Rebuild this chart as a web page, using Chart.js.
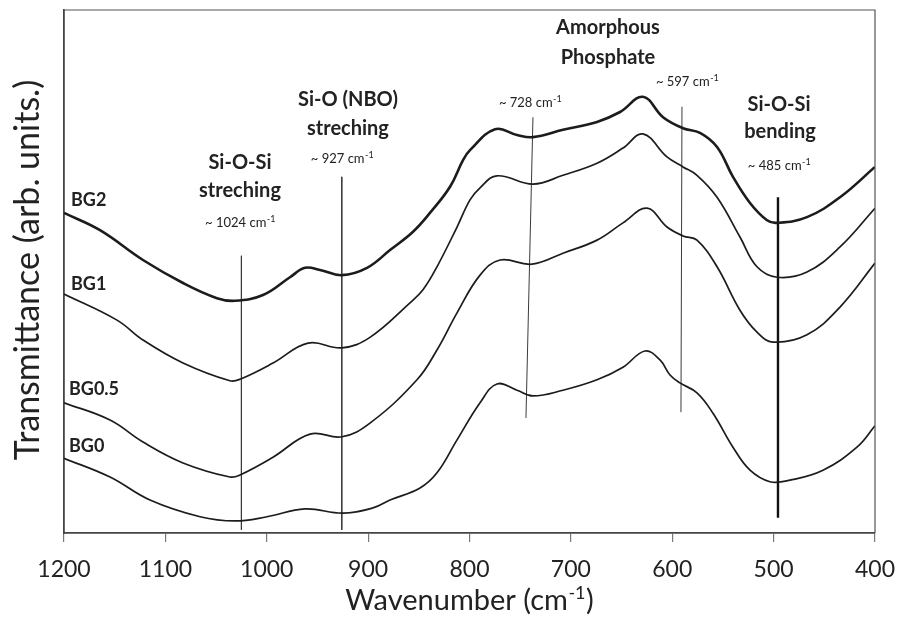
<!DOCTYPE html>
<html>
<head>
<meta charset="utf-8">
<script src="https://cdn.jsdelivr.net/npm/chart.js@4"></script>
<style>
  html, body { margin: 0; padding: 0; background: #ffffff; }
  #wrap { width: 898px; height: 617px; }
</style>
</head>
<body>
<div id="wrap"><canvas id="c" width="898" height="617"></canvas></div>
<script>
// ---- data (wavenumber in cm-1, transmittance in arbitrary units) ----
const waveBG2 = [1200,1164.5,1122.1,1082.6,1049.1,1031.3,1003.7,977.1,962.3,947.5,925.8,901.1,878.4,855.7,839,819.2,806.4,799.5,774.8,753.1,737.4,707.8,674.2,651.5,628.9,609.1,589.4,572.6,555.8,540.1,523.3,506.5,496.7,467.1,434.5,400];
const tBG2    = [61.2,57.9,52.2,47.8,44.9,44.4,45.5,48.9,50.7,50.3,49.3,50.7,54.1,57.6,61.2,66.2,71.3,73.2,77.2,76.1,75.7,77.1,78.6,80.5,83.4,79.5,77.4,76.5,73.8,68.1,63.1,59.8,59.3,60.4,64.2,70.0];

const waveBG1 = [1200,1147.7,1122.1,1082.6,1036.3,1026.4,993.8,959.3,925.8,898.2,858.7,845.9,832.1,812.3,799.5,789.6,772.9,737.4,707.8,674.2,648.6,628.9,605.2,589.4,575.6,555.8,533.2,516.4,496.7,467.1,434.5,400];
const tBG1    = [45.7,40.7,36.9,32.5,29.1,29.4,32.5,36.3,35.4,37.4,44.0,46.5,50.9,58.5,63.7,66.0,68.3,66.7,68.4,70.7,73.6,76.3,71.9,70.0,68.4,64.2,56.6,50.9,48.9,49.9,54.7,62.1];

const waveBG05 = [1200,1154.6,1122.1,1082.6,1036.3,1026.4,993.8,957.3,925.8,898.2,851.8,832.1,812.3,789.6,769.9,738.3,707.8,674.2,648.6,624.9,605.2,589.4,575.6,555.8,533.2,516.4,500.6,467.1,434.5,400];
const tBG05    = [24.9,21.6,17.4,13.4,10.7,11.1,14.5,18.9,18.4,21.0,29.3,35.0,42.1,49.3,52.2,51.4,53.5,56.0,59.3,62.1,58.5,56.8,56.0,50.9,42.6,38.4,36.5,37.9,43.2,51.6];

const waveBG0 = [1200,1154.6,1115.2,1065.8,1031.3,999.8,962.3,924.8,895.2,878.4,848.8,832.1,812.3,789.6,772.9,753.1,737.4,707.8,674.2,648.6,626.9,612.1,602.2,592.4,575.6,559.8,540.1,523.3,503.6,483.8,451.3,417.8,400];
const tBG0    = [14.3,10.7,6.3,3.1,2.3,3.1,4.6,3.8,4.8,6.3,8.6,11.5,17.8,24.9,28.5,27.3,26.2,27.3,29.3,31.7,34.8,33.1,30.2,28.7,26.8,22.9,16.4,12.0,9.8,10.1,12.0,16.4,20.5];

// vertical band marker lines: top and bottom ends (wavenumber, T)
const markerWaveTop    = [1025, 926, 737.4, 590.4, 495.7];
const markerWaveBottom = [1025, 926, 744.3, 591.4, 495.7];
const markerTTop       = [53.0, 68.1, 79.5, 81.5, 64.2];
const markerTBottom    = [0.6, 0.6, 22.0, 23.1, 2.9];

const xTicks = [1200,1100,1000,900,800,700,600,500,400];

// annotation texts anchored at (wavenumber, T)
const bandTitles = [
  {text:'Si-O-Si', w:1026.4, t:70.9},
  {text:'streching', w:1026.4, t:65.4},
  {text:'Si-O (NBO)', w:919.9, t:82.8},
  {text:'streching', w:919.9, t:77.4},
  {text:'Amorphous', w:663.4, t:96.6},
  {text:'Phosphate', w:663.4, t:91.0},
  {text:'Si-O-Si', w:494.7, t:82.0},
  {text:'bending', w:493.7, t:76.7}
];
const bandPositions = [
  {text:'~ 1024 cm', w:1026.4, t:59.3},
  {text:'~ 927 cm', w:925.8, t:71.7},
  {text:'~ 728 cm', w:740.3, t:82.4},
  {text:'~ 597 cm', w:585.4, t:86.4},
  {text:'~ 485 cm', w:494.7, t:70.2}
];
const seriesNames = [
  {text:'BG2', w:1193.1, t:63.7},
  {text:'BG1', w:1193.1, t:47.6},
  {text:'BG0.5', w:1195.1, t:27.5},
  {text:'BG0', w:1195.1, t:16.6}
];

function pts(ws, ts){ return ws.map((w,i)=>({x:w, y:ts[i]})); }

const curveColor = '#1c1c1c';
const datasets = [
  {label:'BG2', data:pts(waveBG2,tBG2), borderColor:curveColor, borderWidth:2.6, tension:0.4},
  {label:'BG1', data:pts(waveBG1,tBG1), borderColor:curveColor, borderWidth:1.7, tension:0.4},
  {label:'BG0.5', data:pts(waveBG05,tBG05), borderColor:curveColor, borderWidth:1.7, tension:0.4},
  {label:'BG0', data:pts(waveBG0,tBG0), borderColor:curveColor, borderWidth:1.7, tension:0.4}
];
markerWaveTop.forEach((w,i)=>{
  datasets.push({
    label:'marker'+i,
    data:[{x:w, y:markerTTop[i]},{x:markerWaveBottom[i], y:markerTBottom[i]}],
    borderColor: i===4 ? '#111' : '#3a3a3a',
    borderWidth: i===4 ? 2.4 : 1,
    tension:0
  });
});

const textPlugin = {
  id:'texts',
  afterDatasetsDraw(chart){
    const ctx = chart.ctx;
    const xs = chart.scales.x, ys = chart.scales.y;
    const ca = chart.chartArea;
    ctx.save();
    // frame (top & right)
    ctx.strokeStyle = '#555';
    ctx.lineWidth = 1.2;
    ctx.beginPath();
    ctx.moveTo(ca.left, ca.top); ctx.lineTo(ca.right, ca.top); ctx.lineTo(ca.right, ca.bottom);
    ctx.stroke();

    ctx.fillStyle = '#222';
    ctx.textBaseline = 'middle';
    ctx.textAlign = 'center';
    ctx.font = 'bold 20px Lato';
    bandTitles.forEach(b=>{
      ctx.fillText(b.text, xs.getPixelForValue(b.w), ys.getPixelForValue(b.t));
    });
    ctx.textAlign = 'left';
    ctx.font = 'bold 18px Lato';
    seriesNames.forEach(b=>{
      ctx.fillText(b.text, xs.getPixelForValue(b.w), ys.getPixelForValue(b.t));
    });
    // small position labels with superscript
    ctx.textBaseline = 'alphabetic';
    bandPositions.forEach(b=>{
      const px = xs.getPixelForValue(b.w), py = ys.getPixelForValue(b.t) + 4.5;
      ctx.font = '13px Lato';
      const wb = ctx.measureText(b.text).width;
      ctx.font = '9px Lato';
      const ws = ctx.measureText('-1').width;
      const x0 = px - (wb + ws)/2;
      ctx.font = '13px Lato';
      ctx.fillText(b.text, x0, py);
      ctx.font = '9px Lato';
      ctx.fillText('-1', x0 + wb + 0.5, py - 5);
    });
    // x axis title
    const cx = (ca.left + ca.right)/2;
    {
      const y0 = 610;
      const big = '29px Lato', small = '18px Lato';
      ctx.font = big;
      const a = 'Wavenumber (cm', s = '-1', c = ')';
      const wa = ctx.measureText(a).width, wc = ctx.measureText(c).width;
      ctx.font = small;
      const wsup = ctx.measureText(s).width;
      const x0 = cx - (wa + wsup + wc + 1)/2;
      ctx.textAlign = 'left';
      ctx.font = big; ctx.fillText(a, x0, y0);
      ctx.font = small; ctx.fillText(s, x0 + wa + 0.5, y0 - 11);
      ctx.font = big; ctx.fillText(c, x0 + wa + wsup + 1, y0);
    }
    // y axis title
    ctx.translate(28, 270);
    ctx.rotate(-Math.PI/2);
    ctx.textAlign = 'center'; ctx.textBaseline = 'middle';
    ctx.font = '34px Lato';
    ctx.fillText('Transmittance (arb. units.)', 0, 0);
    ctx.restore();
  }
};

new Chart(document.getElementById('c'), {
  type:'line',
  data:{ datasets },
  options:{
    responsive:false,
    animation:false,
    devicePixelRatio:1,
    layout:{ padding:{ left:0, top:10, right:23, bottom:0 } },
    elements:{ point:{ radius:0 } },
    plugins:{ legend:{display:false}, tooltip:{enabled:false} },
    scales:{
      x:{
        type:'linear', reverse:true, min:400, max:1200,
        afterBuildTicks(scale){ scale.ticks = xTicks.map(v=>({value:v})); },
        afterFit(scale){ scale.height = 84; scale.paddingLeft = 0; scale.paddingRight = 0; },
        grid:{ display:true, drawOnChartArea:false, drawTicks:true, tickLength:9, color:'#777', lineWidth:1.2 },
        border:{ display:true, color:'#444', width:1.8 },
        ticks:{ color:'#222', font:{ family:'Lato', size:23 }, padding:14, maxRotation:0, autoSkip:false,
                callback:(v)=>String(v) }
      },
      y:{
        min:0, max:100,
        afterFit(scale){ scale.width = 64; scale.paddingTop = 0; scale.paddingBottom = 0; },
        grid:{ display:false },
        border:{ display:true, color:'#444', width:1.8 },
        ticks:{ display:false }
      }
    }
  },
  plugins:[textPlugin]
});
</script>
</body>
</html>
